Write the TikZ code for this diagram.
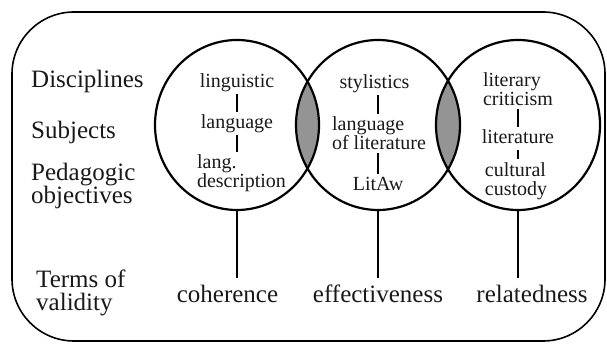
\documentclass[tikz,border=0pt]{standalone}
\usepackage{fontspec}
\setmainfont{Liberation Serif}
\usepackage{tikz}
\usetikzlibrary{positioning}
\usetikzlibrary{shapes.geometric}
\usetikzlibrary{backgrounds}

\newcommand{\termfont}{\fontsize{25}{23}\selectfont}
\newcommand{\vennfont}{\fontsize{20}{19}\selectfont}

\tikzset{
  venn/.style={draw, ellipse, minimum width=164pt, minimum height=170pt, inner sep=0pt, line width=2.2pt},
  word/.style={font=\vennfont, inner sep=3pt, text height=13.5pt, text depth=4pt},
  words/.style={font=\vennfont, inner sep=3pt, align=left},
  term/.style={font=\termfont, inner sep=0pt, text height=17pt, text depth=5pt},
  terms/.style={font=\termfont, inner sep=0pt, align=left, anchor=west},
  link/.style={line width=1.8pt},
  lens/.style={fill=black!42}
}

\begin{document}
\begin{tikzpicture}[x=1pt, y=1pt, node distance=40pt, on grid, text=black!90]

        \useasboundingbox (0,0) rectangle (607,344);
        \draw[line width=1.6pt, rounded corners=62pt] (12,3) rectangle (605,332);

        % the three fields
        \node[venn] (c1) at (237,219) {};
        \node[venn] (c2) [right=141pt of c1] {};
        \node[venn] (c3) [right=140pt of c2] {};

        \begin{pgfonlayer}{background}
          \begin{scope}
            \clip (c1.center) ellipse [x radius=82pt, y radius=85pt];
            \fill[lens] (c2.center) ellipse [x radius=82pt, y radius=85pt];
          \end{scope}
          \begin{scope}
            \clip (c2.center) ellipse [x radius=82pt, y radius=85pt];
            \fill[lens] (c3.center) ellipse [x radius=82pt, y radius=85pt];
          \end{scope}
        \end{pgfonlayer}

        % row labels
        \node[terms] (disc) at (31,262.6) {Disciplines};
        \node[terms] (subj) at (31,211.6) {Subjects};
        \node[terms] (ped)  at (31,157.7) {Pedagogic\\objectives};
        \node[terms] (val)  at (36,50.6)  {Terms of\\validity};

        \node[word]  (ling)   [above=42.5pt of c1] {linguistic};
        \node[word]  (lang)   [above=1.5pt of c1] {language};
        \node[words] (ldesc)  [below=48.5pt of c1, xshift=4.5pt] {lang.\\description};

        \node[word]  (sty)    [above=41.5pt of c2, xshift=-3.5pt] {stylistics};
        \node[words] (loflit) [below=8.5pt of c2, xshift=1pt] {language\\of literature};
        \node[word]  (litaw)  [below=60.5pt of c2] {LitAw};

        \node[words] (litcrit) [above=35.5pt of c3] {literary\\criticism};
        \node[word]  (lit)     [below=13.5pt of c3] {literature};
        \node[words] (cust)    [below=56pt of c3, xshift=-2pt] {cultural\\custody};

        \node[term] (coh) [below=172pt of c1, xshift=-9.5pt] {coherence};
        \node[term] (eff) [below=172pt of c2] {effectiveness};
        \node[term] (rel) [below=172pt of c3, xshift=14pt] {relatedness};

        \path [link]
          (ling.south -| c1) edge (lang.north -| c1)
          (lang.south -| c1) edge (ldesc.north -| c1)

          (sty.south -| c2) edge (loflit.north -| c2)
          (loflit.south -| c2) edge (litaw.north -| c2)

          (litcrit.south -| c3) edge (lit.north -| c3)
          (lit.south -| c3) edge (cust.north -| c3)

          (c1.south) edge [shorten >=8pt] (c1.south |- coh.north)
          (c2.south) edge [shorten >=8pt] (c2.south |- eff.north)
          (c3.south) edge [shorten >=8pt] (c3.south |- rel.north);

      \end{tikzpicture}
\end{document}
